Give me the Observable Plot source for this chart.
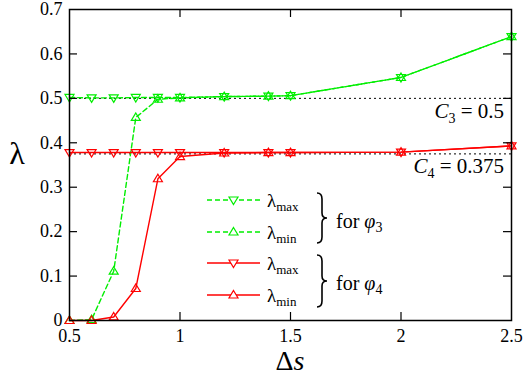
<!DOCTYPE html>
<html>
<head>
<meta charset="utf-8">
<script src="https://cdn.jsdelivr.net/npm/d3@7"></script>
<script src="https://cdn.jsdelivr.net/npm/@observablehq/plot@0.6"></script>
<style>
  html, body { margin: 0; padding: 0; background: #fff; }
</style>
</head>
<body>
<div id="chart"></div>
<script>
// ---- data ----
const ds = [0.5, 0.6, 0.7, 0.8, 0.9, 1.0, 1.2, 1.4, 1.5, 2.0, 2.5];
const phi3Max = [0.502, 0.501, 0.501, 0.502, 0.502, 0.502, 0.504, 0.505, 0.506, 0.547, 0.639];
const phi3Min = [0.0, 0.002, 0.111, 0.457, 0.498, 0.501, 0.504, 0.505, 0.506, 0.547, 0.639];
const phi4Max = [0.378, 0.378, 0.378, 0.378, 0.378, 0.378, 0.378, 0.378, 0.378, 0.379, 0.393];
const phi4Min = [0.0, 0.0, 0.008, 0.072, 0.319, 0.369, 0.377, 0.378, 0.378, 0.379, 0.393];
const refValues = [0.5, 0.375];
const refLabels = [["C", "3", " = 0.5"], ["C", "4", " = 0.375"]];
const xTicks = [0.5, 1, 1.5, 2, 2.5];
const yTicks = [0, 0.1, 0.2, 0.3, 0.4, 0.5, 0.6, 0.7];
const xInnerTicks = [1, 1.5, 2];
const yInnerTicks = [0.1, 0.2, 0.3, 0.4, 0.5, 0.6];

const GREEN = "#00ee00";
const RED = "#ff0000";

const series = [
  {name: "phi3Max", values: phi3Max, color: GREEN, dash: "5,3", dir: "down"},
  {name: "phi3Min", values: phi3Min, color: GREEN, dash: "5,3", dir: "up"},
  {name: "phi4Max", values: phi4Max, color: RED, dash: null, dir: "down"},
  {name: "phi4Min", values: phi4Min, color: RED, dash: null, dir: "up"}
];

const triUp = {draw(c) { c.moveTo(0, -4.5); c.lineTo(4.5, 3); c.lineTo(-4.5, 3); c.closePath(); }};
const triDown = {draw(c) { c.moveTo(0, 4.5); c.lineTo(4.5, -3); c.lineTo(-4.5, -3); c.closePath(); }};

const W = 523, H = 377, ML = 69, MR = 12, MT = 9, MB = 57;
const PW = W - ML - MR, PH = H - MT - MB;
const TICK = 8;
const SERIF = "Liberation Serif";

const marks = [];
marks.push(Plot.ruleY(refValues, {stroke: "#000", strokeWidth: 1, strokeDasharray: "2,3"}));
for (const s of series) {
  const data = ds.map((x, i) => ({x, y: s.values[i]}));
  marks.push(Plot.line(data, {x: "x", y: "y", stroke: s.color, strokeWidth: 1.4, strokeDasharray: s.dash}));
  marks.push(Plot.dot(data, {x: "x", y: "y", stroke: s.color, strokeWidth: 1.2, fill: "none",
    symbol: s.dir === "up" ? triUp : triDown}));
}
marks.push(Plot.tickY(yInnerTicks, {y: d => d, stroke: "#000", strokeWidth: 1.2, insetRight: PW - TICK}));
marks.push(Plot.tickY(yInnerTicks, {y: d => d, stroke: "#000", strokeWidth: 1.2, insetLeft: PW - TICK}));
marks.push(Plot.tickX(xInnerTicks, {x: d => d, stroke: "#000", strokeWidth: 1.2, insetTop: PH - TICK}));
marks.push(Plot.tickX(xInnerTicks, {x: d => d, stroke: "#000", strokeWidth: 1.2, insetBottom: PH - TICK}));
marks.push(Plot.axisX({ticks: xTicks, tickSize: 0, tickPadding: 9, tickFormat: d => String(d), label: null, fontSize: 18}));
marks.push(Plot.axisY({ticks: yTicks, tickSize: 0, tickPadding: 7, tickFormat: d => String(d), label: null, fontSize: 18}));
marks.push(Plot.frame({stroke: "#000", strokeWidth: 1.5}));

const plot = Plot.plot({
  width: W, height: H,
  marginLeft: ML, marginRight: MR, marginTop: MT, marginBottom: MB,
  x: {domain: [0.5, 2.5]},
  y: {domain: [0, 0.7]},
  style: {fontFamily: SERIF, fontSize: "18px", color: "#000", background: "#fff", overflow: "visible"},
  marks
});
document.getElementById("chart").appendChild(plot);

// ---- annotations overlay ----
const svg = d3.select(plot);
const sx = plot.scale("x"), sy = plot.scale("y");
const g = svg.append("g").attr("font-family", SERIF).attr("fill", "#000").attr("text-anchor", "start");

g.append("text").attr("x", sx.apply(1.5)).attr("y", 370).attr("text-anchor", "middle").attr("font-size", 28)
  .call(t => { t.append("tspan").text("Δ"); t.append("tspan").attr("font-style", "italic").text("s"); });
g.append("text").attr("x", 17).attr("y", 164).attr("text-anchor", "middle").attr("font-size", 32).text("λ");

refValues.forEach((v, i) => {
  const [a, sub, rest] = refLabels[i];
  const t = g.append("text").attr("x", sx.apply(2.5) - 7).attr("y", sy.apply(v) + 20)
    .attr("text-anchor", "end").attr("font-size", 21);
  t.append("tspan").attr("font-style", "italic").text(a);
  t.append("tspan").attr("font-size", 14).attr("dy", 5).text(sub);
  t.append("tspan").attr("dy", -5).text(rest);
});

const rows = [200, 232, 263, 295];
const lx0 = 207, lx1 = 260, lmx = 233.5;
series.forEach((s, i) => {
  const y = rows[i];
  g.append("line").attr("x1", lx0).attr("x2", lx1).attr("y1", y).attr("y2", y)
    .attr("stroke", s.color).attr("stroke-width", 1.4).attr("stroke-dasharray", s.dash);
  const p = d3.path();
  (s.dir === "up" ? triUp : triDown).draw(p);
  g.append("path").attr("d", p.toString()).attr("transform", `translate(${lmx},${y})`)
    .attr("fill", "#fff").attr("stroke", s.color).attr("stroke-width", 1.2);
  const t = g.append("text").attr("x", 267).attr("y", y + 7).attr("font-size", 19);
  t.append("tspan").text("λ");
  t.append("tspan").attr("font-size", 13).attr("dy", 4).text(s.dir === "down" ? "max" : "min");
});
function brace(x0, y1, y2) {
  const m = (y1 + y2) / 2;
  const d = `M${x0},${y1} Q${x0 + 5},${y1} ${x0 + 5},${y1 + 6} L${x0 + 5},${m - 5} Q${x0 + 5},${m} ${x0 + 10},${m} Q${x0 + 5},${m} ${x0 + 5},${m + 5} L${x0 + 5},${y2 - 6} Q${x0 + 5},${y2} ${x0},${y2}`;
  g.append("path").attr("d", d).attr("fill", "none").attr("stroke", "#000").attr("stroke-width", 1.6);
}
brace(317, 193, 243);
brace(317, 255, 307);
[["3", 228], ["4", 290]].forEach(([sub, y]) => {
  const t = g.append("text").attr("x", 336).attr("y", y).attr("font-size", 20);
  t.append("tspan").text("for ");
  t.append("tspan").attr("font-style", "italic").text("φ");
  t.append("tspan").attr("font-size", 14).attr("dy", 4).text(sub);
});
svg.selectAll("text").attr("font-family", SERIF).style("font-family", SERIF);
</script>
</body>
</html>
